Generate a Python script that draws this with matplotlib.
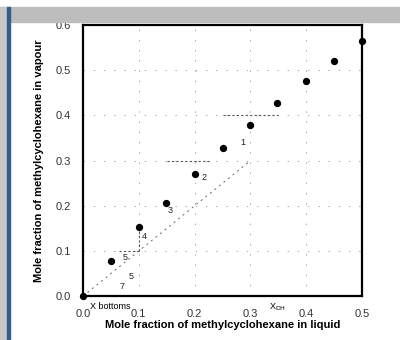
import matplotlib
matplotlib.use('Agg')
import matplotlib.pyplot as plt
from matplotlib.patches import Rectangle

plt.rcParams['font.family'] = ['Liberation Sans', 'DejaVu Sans']

# 平衡数据 (液相, 气相)
x_liq = [0.0, 0.05, 0.10, 0.148, 0.20, 0.25, 0.30, 0.348, 0.40, 0.449, 0.50]
y_vap = [0.0, 0.078, 0.152, 0.207, 0.27, 0.328, 0.378, 0.428, 0.476, 0.521, 0.565]

# 对角线 y=x
diag = [0.0, 0.30]

# 阶梯 (虚线段)
steps = [
    ([0.25, 0.35], [0.40, 0.40]),
    ([0.15, 0.23], [0.30, 0.30]),
    ([0.10, 0.10], [0.10, 0.152]),
    ([0.065, 0.10], [0.10, 0.10]),
]

# 理论板编号
stage_labels = ['1', '2', '3', '4', '5', '5', '7']
stage_x = [0.287, 0.217, 0.157, 0.109, 0.075, 0.086, 0.070]
stage_y = [0.341, 0.263, 0.190, 0.131, 0.086, 0.044, 0.022]

ticks_x = [0.0, 0.1, 0.2, 0.3, 0.4, 0.5]
ticks_y = [0.0, 0.1, 0.2, 0.3, 0.4, 0.5, 0.6]

fig = plt.figure(figsize=(4, 3.4), dpi=100)
ax = fig.add_axes([0.2075, 0.129, 0.6975, 0.797])

ax.grid(True, linestyle=(0, (1.5, 9)), color='#aaaaaa', linewidth=0.7)
ax.plot(diag, diag, linestyle=(0, (2, 4)), color='#666666', linewidth=0.7)
for sx, sy in steps:
    ax.plot(sx, sy, linestyle=(0, (2, 2)), color='#555555', linewidth=0.8)

ax.scatter(x_liq, y_vap, s=18, color='black', zorder=5, clip_on=False)

for t, px, py in zip(stage_labels, stage_x, stage_y):
    ax.text(px, py, t, fontsize=6.5, ha='center', va='center', color='#222222')

ax.text(0.012, -0.012, 'X bottoms', fontsize=6.5, ha='left', va='top')
ax.text(0.348, -0.012, 'X$_{\\rm DH}$', fontsize=6.5, ha='center', va='top')

ax.set_xlim(0, 0.5)
ax.set_ylim(0, 0.6)
ax.set_xticks(ticks_x)
ax.set_yticks(ticks_y)
ax.set_xticklabels([f'{v:.1f}' for v in ticks_x])
ax.set_yticklabels([f'{v:.1f}' for v in ticks_y])
ax.tick_params(length=0, labelsize=8, pad=9, colors='#333333')
for sp in ax.spines.values():
    sp.set_linewidth(1.6)

ax.set_xlabel('Mole fraction of methylcyclohexane in liquid', fontsize=8,
              fontweight='bold', labelpad=1)
ax.set_ylabel('Mole fraction of methylcyclohexane in vapour', fontsize=8,
              fontweight='bold', labelpad=8)

# 扫描边框: 顶部灰条和左侧蓝线
H = 340.0
fig.patches.append(Rectangle((0, 1 - 22 / H), 1, 15 / H, transform=fig.transFigure,
                             color='#bdbdbd', zorder=10))
fig.patches.append(Rectangle((0, 0), 7 / 400, 1 - 7 / H, transform=fig.transFigure,
                             color='#c8c8c8', zorder=10))
fig.patches.append(Rectangle((7 / 400, 0), 3 / 400, 1 - 7 / H, transform=fig.transFigure,
                             color='#2f5f8f', zorder=11))

fig.savefig('out.png', dpi=100)
